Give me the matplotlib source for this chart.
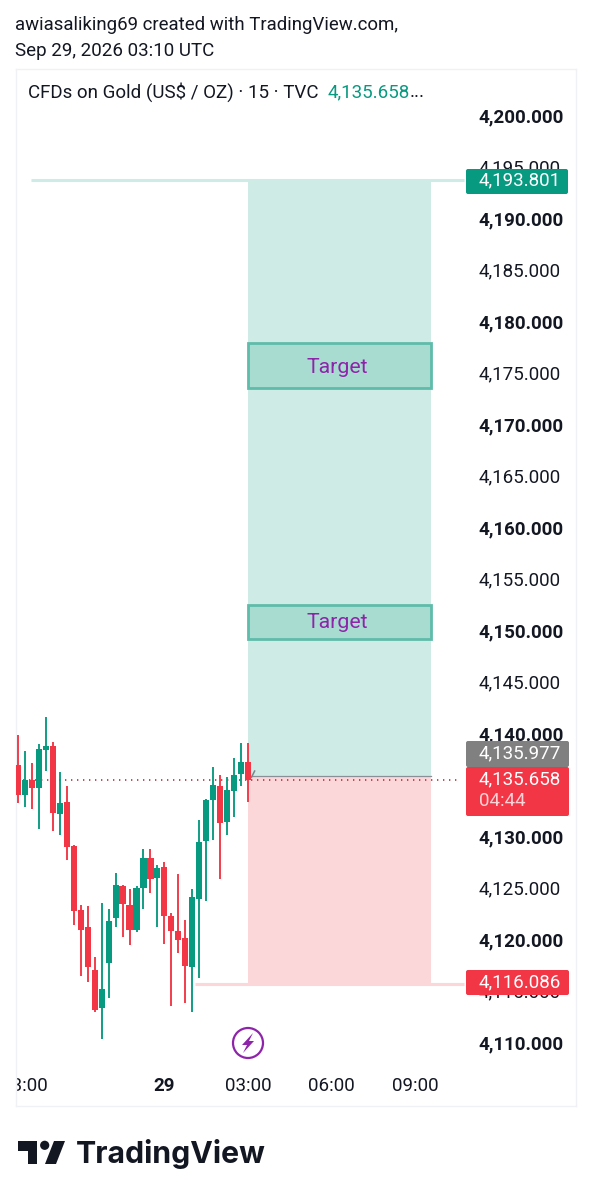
#!/usr/bin/env python3
"""Gold 15m TradingView snapshot with a long position drawing."""
import matplotlib
matplotlib.use("Agg")
import matplotlib.pyplot as plt
from matplotlib.patches import Circle, FancyBboxPatch, Polygon, Rectangle

plt.rcParams["font.family"] = ["Roboto", "DejaVu Sans"]

# candles
opens = [4137.1, 4134.2, 4135.6, 4134.9, 4138.5, 4138.9, 4132.3, 4133.5, 4129.2, 4123.0, 4121.4, 4117.2,
         4113.5, 4117.9, 4122.2, 4125.3, 4123.5, 4121.1, 4125.1, 4128.1, 4126.1, 4127.2, 4122.4, 4121.0,
         4120.3, 4117.5, 4124.1, 4129.7, 4133.7, 4135.0, 4131.6, 4134.6, 4136.2, 4137.4]
highs = [4140.0, 4138.4, 4137.3, 4139.1, 4141.7, 4139.3, 4136.4, 4135.0, 4129.3, 4123.5, 4123.4, 4118.4,
         4123.7, 4123.1, 4126.6, 4125.4, 4125.0, 4125.3, 4128.9, 4128.9, 4127.4, 4127.7, 4122.7, 4126.5,
         4122.0, 4125.0, 4131.7, 4133.8, 4136.9, 4136.1, 4135.9, 4137.8, 4139.2, 4139.2]
lows = [4133.4, 4133.0, 4132.8, 4130.9, 4136.5, 4130.7, 4130.3, 4127.9, 4121.6, 4116.6, 4116.0, 4113.1,
        4110.5, 4114.5, 4121.4, 4120.4, 4119.6, 4120.9, 4123.1, 4124.7, 4121.4, 4119.7, 4113.7, 4118.8,
        4114.0, 4113.1, 4116.4, 4123.9, 4129.8, 4126.0, 4130.3, 4132.0, 4135.0, 4133.5]
closes = [4134.2, 4135.6, 4134.9, 4138.6, 4138.9, 4132.4, 4133.4, 4129.1, 4122.9, 4121.1, 4117.5, 4113.3,
          4115.3, 4121.9, 4125.4, 4123.6, 4121.1, 4125.1, 4128.1, 4126.0, 4127.1, 4122.4, 4121.0, 4120.1,
          4117.6, 4124.3, 4129.6, 4133.7, 4135.1, 4131.5, 4134.7, 4136.1, 4137.4, 4135.658]

price_ticks = list(range(4110, 4205, 5))
time_ticks = [1, 21, 33, 45, 57]
time_labels = ["23:00", "29", "03:00", "06:00", "09:00"]

last_price = 4135.658
entry_price = 4135.977
target_price = 4193.801
stop_price = 4116.086
stop_edge = 4115.85
target_zones = [(4173.7, 4178.1), (4149.35, 4152.6)]
target_label_prices = [4175.9, 4151.15]

GREEN = "#089981"
RED = "#F23645"
INK = "#131722"
PURPLE = "#8E24AA"
GREEN_FILL = "#CEEBE5"
RED_FILL = "#FCD7DA"

fig = plt.figure(figsize=(5.92, 12), dpi=100, facecolor="white")
ax = fig.add_axes([16 / 592, 94 / 1200, 560 / 592, 1037 / 1200])
ax.set_xlim(-0.29, 80.06)
ax.set_ylim(4103.98, 4204.66)

# long position box
box_l, box_r = 33, 59.3
ax.add_patch(Rectangle((box_l, entry_price), box_r - box_l, target_price - entry_price,
                       fc=GREEN_FILL, ec="none", zorder=1))
ax.add_patch(Rectangle((box_l, stop_edge), box_r - box_l, entry_price - stop_edge,
                       fc=RED_FILL, ec="none", zorder=1))
ax.plot([1.9, 64], [target_price + 0.1] * 2, color=GREEN_FILL, lw=2.2, zorder=1, solid_capstyle="butt")
ax.plot([25.4, 64], [stop_edge] * 2, color=RED_FILL, lw=2.2, zorder=1, solid_capstyle="butt")
ax.plot([box_l, box_r], [entry_price] * 2, color="#8A8F98", lw=0.9, zorder=1.5)

for (lo, hi), lab_y in zip(target_zones, target_label_prices):
    ax.add_patch(Rectangle((box_l, lo), box_r - box_l, hi - lo, fc="#A8DCD1", ec="#5FBBAA", lw=2, zorder=1.6))
    ax.text((box_l + box_r) / 2 - 0.3, lab_y, "Target", color=PURPLE, fontsize=15.3,
            ha="center", va="center_baseline", zorder=2)

# last price line
ax.plot([-1, 63.5], [last_price] * 2, color="#B0323C", lw=1.2, ls=(0, (0.8, 2.8)), zorder=1.8)

# candles
idx = list(range(len(opens)))
for i in idx:
    col = GREEN if closes[i] >= opens[i] else RED
    ax.vlines(i, lows[i], highs[i], color=col, lw=1.35, zorder=3)
    ax.bar(i, abs(closes[i] - opens[i]), bottom=min(opens[i], closes[i]), width=0.88,
           color=col, zorder=3.1)

ax.plot([33.5, 33.95], [4135.9, 4136.5], color="#7E8389", lw=1.1, zorder=3.2)

# axes
ax.yaxis.tick_right()
ax.set_yticks(price_ticks)
ax.set_yticklabels([f"{p:,.3f}" for p in price_ticks], fontsize=13.5, color=INK, va="center")
for lab, p in zip(ax.get_yticklabels(), price_ticks):
    lab.set_fontweight("bold" if p % 10 == 0 else "normal")
ax.tick_params(axis="y", length=0, pad=-70.5)
ax.set_xticks(time_ticks)
ax.set_xticklabels(time_labels, fontsize=13.5, color=INK)
ax.tick_params(axis="x", length=0, pad=-21)
for lab, txt in zip(ax.get_xticklabels(), time_labels):
    if txt == "29":
        lab.set_fontweight("bold")
    lab.set_clip_box(ax.bbox)
    lab.set_clip_on(True)
for s in ax.spines.values():
    s.set_color("#F0F1F4")
    s.set_linewidth(1)

# overlay in pixel units for the labels and branding
ov = fig.add_axes([0, 0, 1, 1])
ov.set_xlim(0, 592)
ov.set_ylim(1200, 0)
ov.axis("off")
ov.patch.set_alpha(0)


def tag(x0, y0, x1, y1, color):
    ov.add_patch(FancyBboxPatch((x0 + 1, y0 + 1), x1 - x0 - 2, y1 - y0 - 2,
                                boxstyle="round,pad=1,rounding_size=2", fc=color, ec="none"))


tag(466, 169, 568, 194, GREEN)
tag(466, 741, 569, 767, "#808080")
tag(466, 767, 569, 816, RED)
tag(466, 970, 569, 995, RED)
ov.text(520, 180.5, f"{target_price:,.3f}", color="white", fontsize=13.5, ha="center", va="center")
ov.text(520, 753, f"{entry_price:,.3f}", color="white", fontsize=13.5, ha="center", va="center")
ov.text(520, 779, f"{last_price:,.3f}", color="white", fontsize=13.5, ha="center", va="center")
ov.text(479, 801, "04:44", color="#FBD3D7", fontsize=13.5, ha="left", va="center")
ov.text(520, 982, f"{stop_price:,.3f}", color="white", fontsize=13.5, ha="center", va="center")

# header
ov.text(15, 25, "awiasaliking69 created with TradingView.com,", color=INK, fontsize=13.45, va="center")
ov.text(15, 51, "Sep 29, 2026 03:10 UTC", color=INK, fontsize=13.5, va="center")
ov.text(28, 92, "CFDs on Gold (US$ / OZ) · 15 · TVC", color=INK, fontsize=13.5, va="center")
ov.text(328, 92, "4,135.658", color=GREEN, fontsize=13.5, va="center")
ov.text(410, 92, "...", color=INK, fontsize=13.5, va="center")

# lightning badge
ov.add_patch(Circle((248, 1043), 15, fc="white", ec=PURPLE, lw=1.6))
ov.add_patch(Polygon([(253, 1033), (242, 1045), (247, 1045), (243, 1053), (254, 1041), (249, 1041)],
                     closed=True, fc=PURPLE, ec="none"))

# logo
ov.add_patch(Polygon([(18, 1141), (37, 1141), (37, 1164), (28, 1164), (28, 1151), (18, 1151)],
                     closed=True, fc=INK, ec="none"))
ov.add_patch(Circle((44.7, 1145.3), 4.6, fc=INK, ec="none"))
ov.add_patch(Polygon([(54, 1141), (65, 1141), (56, 1164), (45, 1164)], closed=True, fc=INK, ec="none"))
ov.text(76, 1154, "TradingView", color=INK, fontsize=21.8, fontweight="bold", va="center",
        family=["Inter", "Roboto"])

fig.savefig("out.png", dpi=100, facecolor="white")
